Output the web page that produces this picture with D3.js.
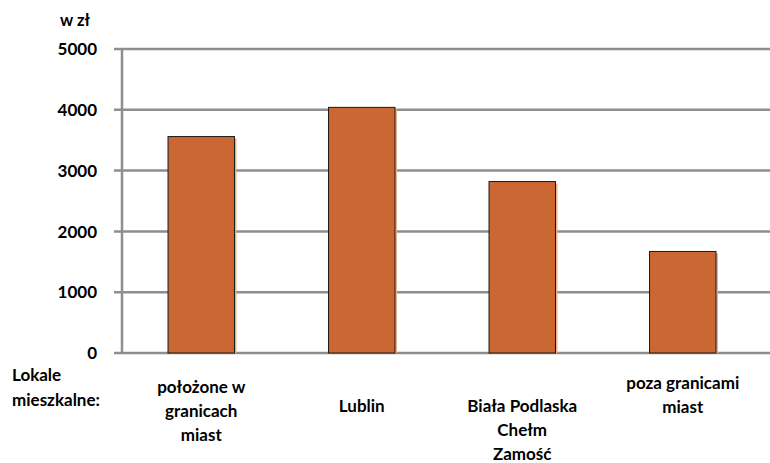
<!DOCTYPE html>
<html>
<head>
<meta charset="utf-8">
<script src="https://cdn.jsdelivr.net/npm/d3@7/dist/d3.min.js"></script>
<style>
  html, body { margin: 0; padding: 0; background: #fff; }
  svg { display: block; }
  text { font-family: Lato, "Open Sans", sans-serif; fill: #000; }
</style>
</head>
<body>
<svg id="chart" width="770" height="463"></svg>
<script>
// Average price per m² of residential units (w zł)
const categories = ["polozone", "lublin", "bpcz", "poza"];
const categoryLines = [
  ["położone w", "granicach", "miast"],
  ["Lublin"],
  ["Biała Podlaska", "Chełm", "Zamość"],
  ["poza granicami", "miast"]
];
const values = [3560, 4040, 2820, 1670];
const yTicks = [0, 1000, 2000, 3000, 4000, 5000];
const unitLabel = "w zł";
const rowLabel = ["Lokale", "mieszkalne:"];

(function draw() {
  const svg = d3.select("#chart");
  const W = 770;
  const axisX = 122, plotTop = 49, plotBottom = 353;

  const y = d3.scaleLinear().domain([0, 5000]).range([plotBottom, plotTop]);
  const x = d3.scaleBand().domain(categories).range([121, 763])
    .paddingInner(0.586).paddingOuter(0.293);

  // horizontal gridlines with short tick stubs left of the axis
  svg.append("g").selectAll("line").data(yTicks).join("line")
    .attr("x1", axisX - 8).attr("x2", W)
    .attr("y1", d => y(d)).attr("y2", d => y(d))
    .attr("stroke", "#8e8e8e").attr("stroke-width", 2.5);

  // vertical axis
  svg.append("line")
    .attr("x1", axisX).attr("x2", axisX)
    .attr("y1", y(5000)).attr("y2", y(0))
    .attr("stroke", "#8e8e8e").attr("stroke-width", 2.5);

  // tick labels
  svg.append("g").selectAll("text").data(yTicks).join("text")
    .attr("x", 97).attr("y", d => y(d))
    .attr("dy", "0.36em")
    .attr("text-anchor", "end")
    .attr("font-size", 17).attr("font-weight", 700)
    .text(d => d);

  svg.append("text")
    .attr("x", 60).attr("y", 26)
    .attr("font-size", 16.5).attr("font-weight", 700)
    .text(unitLabel);

  // bars with a soft right-hand shadow
  const bars = svg.append("g");
  bars.selectAll("rect.shadow").data(values).join("rect")
    .attr("class", "shadow")
    .attr("x", (d, i) => x(categories[i]) + 2)
    .attr("y", d => y(d) + 2)
    .attr("width", x.bandwidth())
    .attr("height", d => y(0) - y(d) - 2)
    .attr("fill", "#eab08c");
  bars.selectAll("rect.bar").data(values).join("rect")
    .attr("class", "bar")
    .attr("x", (d, i) => x(categories[i]))
    .attr("y", d => y(d))
    .attr("width", x.bandwidth())
    .attr("height", d => y(0) - y(d))
    .attr("fill", "#cb6733")
    .attr("stroke", "#1a1a1a").attr("stroke-width", 1);

  // category labels
  const firstLineY = [387, 406, 406, 383];
  const lineH = 24;
  const labels = svg.append("g");
  categoryLines.forEach((lines, i) => {
    const cx = x(categories[i]) + x.bandwidth() / 2;
    labels.append("text")
      .attr("text-anchor", "middle")
      .attr("font-size", 17).attr("font-weight", 700)
      .selectAll("tspan").data(lines).join("tspan")
      .attr("x", cx)
      .attr("y", (d, j) => firstLineY[i] + j * lineH)
      .attr("dy", "0.35em")
      .text(d => d);
  });

  svg.append("text")
    .attr("font-size", 17).attr("font-weight", 700)
    .selectAll("tspan").data(rowLabel).join("tspan")
    .attr("x", 12)
    .attr("y", (d, j) => 375 + j * 25)
    .attr("dy", "0.35em")
    .text(d => d);
})();
</script>
</body>
</html>
